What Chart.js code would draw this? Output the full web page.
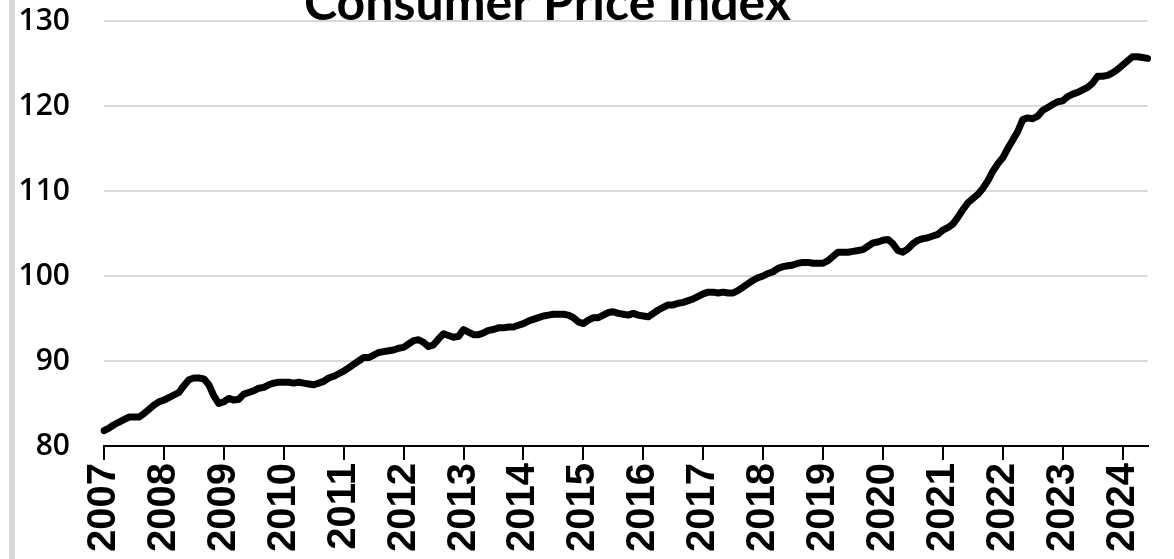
<!DOCTYPE html>
<html>
<head>
<meta charset="utf-8">
<script src="https://cdn.jsdelivr.net/npm/chart.js@4/dist/chart.umd.min.js"></script>
<style>
  html, body { margin: 0; padding: 0; background: #fff; overflow: hidden; }
  #wrap { position: relative; width: 1174px; height: 559px; overflow: hidden; }
  #bar { position: absolute; left: 9px; top: 0; width: 6px; height: 559px; background: #d9d9d9; z-index: 1; }
  #chart { position: absolute; left: -62px; top: -31px; }
</style>
</head>
<body>
<div id="wrap">
  <div id="bar"></div>
  <canvas id="chart" width="1236" height="590"></canvas>
</div>
<script>
const title = 'Consumer Price Index'
const years = ['2007', '2008', '2009', '2010', '2011', '2012', '2013', '2014', '2015',
  '2016', '2017', '2018', '2019', '2020', '2021', '2022', '2023', '2024']
const monthNames = ['Jan', 'Feb', 'Mar', 'Apr', 'May', 'Jun', 'Jul', 'Aug', 'Sep', 'Oct', 'Nov', 'Dec']

// monthly index, Jan 2007 .. Jun 2024
const cpi = [
  81.8, 82.1, 82.5, 82.8, 83.1, 83.4, 83.4, 83.4, 83.8, 84.3, 84.8, 85.2,
  85.4, 85.7, 86.0, 86.3, 87.1, 87.8, 88.0, 88.0, 87.9, 87.2, 85.9, 85.0,
  85.2, 85.6, 85.4, 85.5, 86.1, 86.3, 86.5, 86.8, 86.9, 87.2, 87.4, 87.5,
  87.5, 87.5, 87.4, 87.5, 87.4, 87.3, 87.2, 87.4, 87.6, 88.0, 88.2, 88.5,
  88.8, 89.2, 89.6, 90.0, 90.4, 90.4, 90.7, 91.0, 91.1, 91.2, 91.3, 91.5,
  91.6, 92.0, 92.4, 92.5, 92.2, 91.7, 91.9, 92.6, 93.2, 93.0, 92.8, 92.9,
  93.7, 93.4, 93.1, 93.1, 93.3, 93.6, 93.7, 93.9, 93.9, 94.0, 94.0, 94.2,
  94.4, 94.7, 94.9, 95.1, 95.3, 95.4, 95.5, 95.5, 95.5, 95.4, 95.1, 94.6,
  94.4, 94.8, 95.1, 95.1, 95.4, 95.7, 95.8, 95.6, 95.5, 95.4, 95.6, 95.4,
  95.3, 95.2, 95.6, 96.0, 96.3, 96.6, 96.6, 96.8, 96.9, 97.1, 97.3, 97.6,
  97.9, 98.1, 98.1, 98.0, 98.1, 98.0, 98.0, 98.3, 98.7, 99.1, 99.5, 99.8,
  100.0, 100.3, 100.5, 100.9, 101.1, 101.2, 101.3, 101.5, 101.6, 101.6, 101.5, 101.5,
  101.5, 101.8, 102.3, 102.8, 102.8, 102.8, 102.9, 103.0, 103.1, 103.5, 103.9, 104.0,
  104.2, 104.3, 103.8, 103.0, 102.8, 103.2, 103.8, 104.2, 104.4, 104.5, 104.7, 104.9,
  105.4, 105.7, 106.1, 106.9, 107.8, 108.6, 109.1, 109.6, 110.3, 111.2, 112.3, 113.2,
  113.9, 115.0, 116.0, 117.0, 118.4, 118.6, 118.5, 118.8, 119.5, 119.8, 120.2, 120.5,
  120.6, 121.1, 121.4, 121.6, 121.9, 122.2, 122.7, 123.5, 123.5, 123.6, 123.9, 124.3,
  124.8, 125.3, 125.8, 125.8, 125.7, 125.6
]

const labels = []
years.forEach(y => monthNames.forEach(m => labels.push(m + ' ' + y)))
labels.length = cpi.length

new Chart(document.getElementById('chart').getContext('2d'), {
  type: 'line',
  data: {
    labels,
    datasets: [{
      label: 'CPI',
      data: cpi,
      borderColor: '#000',
      borderWidth: 7,
      borderJoinStyle: 'round',
      borderCapStyle: 'round',
      pointRadius: 0,
      tension: 0
    }]
  },
  options: {
    responsive: false,
    animation: false,
    devicePixelRatio: 1,
    layout: { padding: { left: 0, right: 17, top: 0, bottom: 0 } },
    plugins: {
      legend: { display: false },
      tooltip: { enabled: false },
      title: {
        display: true,
        text: title,
        color: '#000',
        font: { family: 'Lato', size: 50, weight: 'bold', lineHeight: 0.68 },
        padding: { top: 0, bottom: 0 }
      }
    },
    scales: {
      x: {
        offset: false,
        border: { display: true, color: '#000', width: 2 },
        grid: { drawOnChartArea: false, drawTicks: true, tickLength: 14, color: '#000', lineWidth: 2 },
        ticks: {
          autoSkip: false,
          minRotation: 90,
          maxRotation: 90,
          padding: 3,
          color: '#000',
          font: { family: 'Liberation Sans', size: 40, weight: 'bold' },
          callback: (v, i) => (i % 12 === 0 ? years[i / 12] : null)
        },
        afterFit: s => { s.height = 113 }
      },
      y: {
        min: 80,
        max: 130,
        border: { display: false },
        grid: { color: '#d9d9d9', lineWidth: 2, drawTicks: false },
        ticks: {
          stepSize: 10,
          padding: 34,
          color: '#000',
          font: { family: 'Open Sans', size: 30, weight: '600' }
        },
        afterFit: s => { s.width = 166 }
      }
    }
  }
})
</script>
</body>
</html>
